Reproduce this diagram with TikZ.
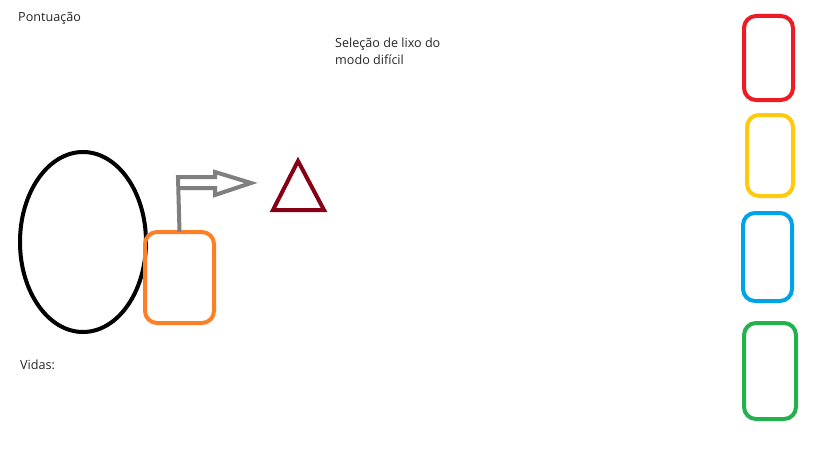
\documentclass[tikz,border=0pt]{standalone}
\usepackage{fontspec}
\setmainfont{Open Sans}
\definecolor{pred}{HTML}{ED1C24}
\definecolor{pyellow}{HTML}{FFC90E}
\definecolor{pblue}{HTML}{00A2E8}
\definecolor{pgreen}{HTML}{22B14C}
\definecolor{porange}{HTML}{FF7F27}
\definecolor{pgray}{HTML}{7F7F7F}
\definecolor{pdark}{HTML}{880015}
\begin{document}
\begin{tikzpicture}[x=1pt,y=-1pt,
  lbl/.style={anchor=west,inner sep=0pt,font=\fontsize{12.6}{17}\selectfont,text=black!85},
  card/.style={draw=#1,line width=4pt,rounded corners=12pt},
  stroke/.style={line width=4pt}]
\useasboundingbox[fill=white] (0,0) rectangle (819,460);
\node[lbl] (score) at (18,18) {Pontuação};
\node[lbl,align=left] (sel) at (335,51) {Seleção de lixo do\\modo difícil};
\node[lbl] (lives) at (20,365) {Vidas:};
\draw[stroke,black] (83,242) ellipse [x radius=63,y radius=90];
\draw[card=porange] (145,232) rectangle (214,323);
\node[inner sep=0pt,minimum size=0pt] (player) at (179.5,232) {};
\draw[stroke,pgray,line join=miter] (player.north) -- (178,177) -- (215,177) -- (215,172) -- (251,183) -- (215,195) -- (215,188) -- (178,188);
\draw[stroke,pdark,line join=miter] (298,161) -- (273,210) -- (324,210) -- cycle;
\draw[card=pred] (744,16) rectangle (793,100);
\draw[card=pyellow] (747,115) rectangle (793,196);
\draw[card=pblue] (743,213) rectangle (792,301);
\draw[card=pgreen] (744,323) rectangle (796,419);
\end{tikzpicture}
\end{document}
